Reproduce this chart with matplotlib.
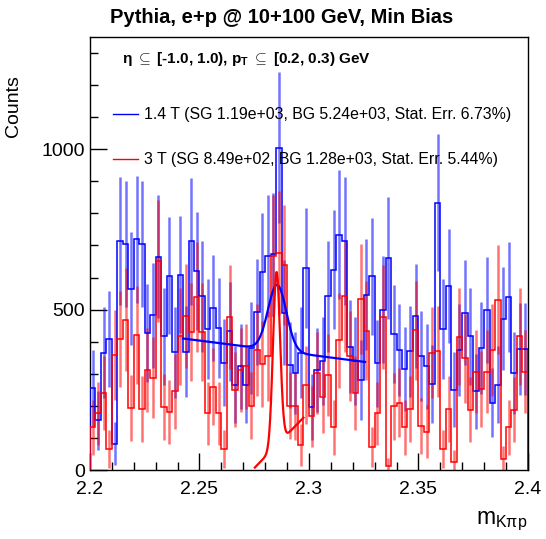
import numpy as np
import matplotlib
matplotlib.use("Agg")
import matplotlib.pyplot as plt

plt.rcParams['font.family'] = ['Liberation Sans', 'DejaVu Sans']
plt.rcParams['mathtext.fontset'] = 'custom'
plt.rcParams['mathtext.rm'] = 'Liberation Sans'
plt.rcParams['mathtext.it'] = 'Liberation Sans'
plt.rcParams['mathtext.bf'] = 'Liberation Sans:bold'

# histogram binning (80 bins over 2.2 - 2.4)
x_lo, x_hi, n_bins = 2.2, 2.4, 80

# counts per bin, 1.4 T
counts_14T = [255, 155, 365, 409, 82, 714, 705, 565, 719, 705,
              427, 482, 665, 417, 606, 367, 609, 369, 713, 620,
              542, 441, 505, 443, 335, 432, 266, 323, 266, 380,
              492, 618, 667, 672, 1005, 490, 328, 302, 365, 630,
              196, 312, 339, 542, 625, 734, 714, 385, 339, 281,
              547, 604, 333, 500, 661, 425, 373, 315, 370, 481,
              356, 323, 269, 833, 440, 573, 250, 373, 490, 417,
              245, 380, 498, 210, 266, 472, 540, 302, 377, 377]

# counts per bin, 3 T
counts_3T = [133, 177, 240, 66, 359, 409, 468, 194, 422, 190,
             311, 288, 651, 196, 182, 245, 417, 479, 430, 540,
             430, 177, 260, 177, 66, 476, 250, 312, 323, 200,
             375, 330, 355, 667, 677, 640, 200, 198, 78, 265,
             167, 302, 229, 297, 133, 404, 542, 356, 240, 533,
             434, 71, 177, 476, 12, 198, 210, 133, 190, 435,
             137, 120, 365, 370, 65, 190, 26, 415, 349, 188,
             307, 252, 307, 373, 531, 33, 133, 188, 417, 307]

# average event weight (error = sqrt(sum w^2))
weight_14T = 55.0
weight_3T = 55.0

# fit results: gaussian + linear background
fit_14T = dict(amp=205.0, mean=2.2855, sigma=0.0042, p0=410.0, p1=-880.0, x0=2.2425, x1=2.3256)
fit_3T = dict(amp=540.0, mean=2.2852, sigma=0.0016, p0=105.0, p1=7000.0, x0=2.2753, x1=2.2975)
fit_ref_14T = 2.2425
fit_ref_3T = 2.2892

legend_labels = ["1.4 T (SG 1.19e+03, BG 5.24e+03, Stat. Err. 6.73%)",
                 "3 T (SG 8.49e+02, BG 1.28e+03, Stat. Err. 5.44%)"]


def fit_curve(p, xref):
    xs = np.linspace(p['x0'], p['x1'], 400)
    ys = p['amp'] * np.exp(-0.5 * ((xs - p['mean']) / p['sigma']) ** 2) + p['p0'] + p['p1'] * (xs - xref)
    return xs, ys


def draw_hist(ax, vals, w, col):
    vals = np.asarray(vals, float)
    edges = np.linspace(x_lo, x_hi, n_bins + 1)
    centers = 0.5 * (edges[1:] + edges[:-1])
    err = np.sqrt(vals * w)
    ax.errorbar(centers, vals, yerr=err, fmt='none', ecolor=col, elinewidth=1.8, alpha=0.55, zorder=2)
    ax.stairs(vals, edges, color=col, lw=1.1, zorder=3)


fig = plt.figure(figsize=(5.46, 5.39), dpi=100)
ax = fig.add_axes([0.1648, 0.128, 0.802, 0.8034])

draw_hist(ax, counts_14T, weight_14T, 'blue')
draw_hist(ax, counts_3T, weight_3T, 'red')

xs, ys = fit_curve(fit_14T, fit_ref_14T)
ax.plot(xs, ys, color='blue', lw=1.6, zorder=4)
xs, ys = fit_curve(fit_3T, fit_ref_3T)
ax.plot(xs, ys, color='red', lw=1.6, zorder=4)

ax.set_xlim(x_lo, x_hi)
ax.set_ylim(0, 1350)
ax.set_xticks([2.2, 2.25, 2.3, 2.35, 2.4])
ax.set_xticklabels(['2.2', '2.25', '2.3', '2.35', '2.4'])
ax.set_xticks(np.arange(2.2, 2.4001, 0.01), minor=True)
ax.set_yticks([0, 500, 1000])
ax.set_yticks(np.arange(0, 1350, 100), minor=True)
ax.tick_params(which='both', direction='in', top=False, right=False, labelsize=14, width=1)
ax.tick_params(which='major', length=12)
ax.tick_params(which='minor', length=6)
ax.tick_params(axis='x', pad=8)
for s in ax.spines.values():
    s.set_linewidth(1.0)

ax.set_ylabel('Counts', fontsize=14)
ax.yaxis.set_label_coords(-0.155, 0.84)
ax.set_xlabel(r'm$_{\mathrm{K\pi p}}$', fontsize=16.5, ha='right')
ax.xaxis.set_label_coords(0.998, -0.092)

fig.text(0.516, 0.968, 'Pythia, e+p @ 10+100 GeV, Min Bias', ha='center', va='center',
         fontsize=14.5, fontweight='bold')

ax.text(0.073, 0.948, r'η $\subseteq$ [-1.0, 1.0), p$_\mathbf{T}$ $\subseteq$ [0.2, 0.3) GeV',
        transform=ax.transAxes, fontsize=11, fontweight='bold', va='center')

for i, (lab, col) in enumerate(zip(legend_labels, ['blue', 'red'])):
    yy = 0.822 - i * 0.104
    ax.plot([0.052, 0.11], [yy, yy], color=col, lw=1.0, transform=ax.transAxes)
    ax.text(0.124, yy, lab, transform=ax.transAxes, fontsize=11.4, va='center')

fig.savefig('out.png', dpi=100)
